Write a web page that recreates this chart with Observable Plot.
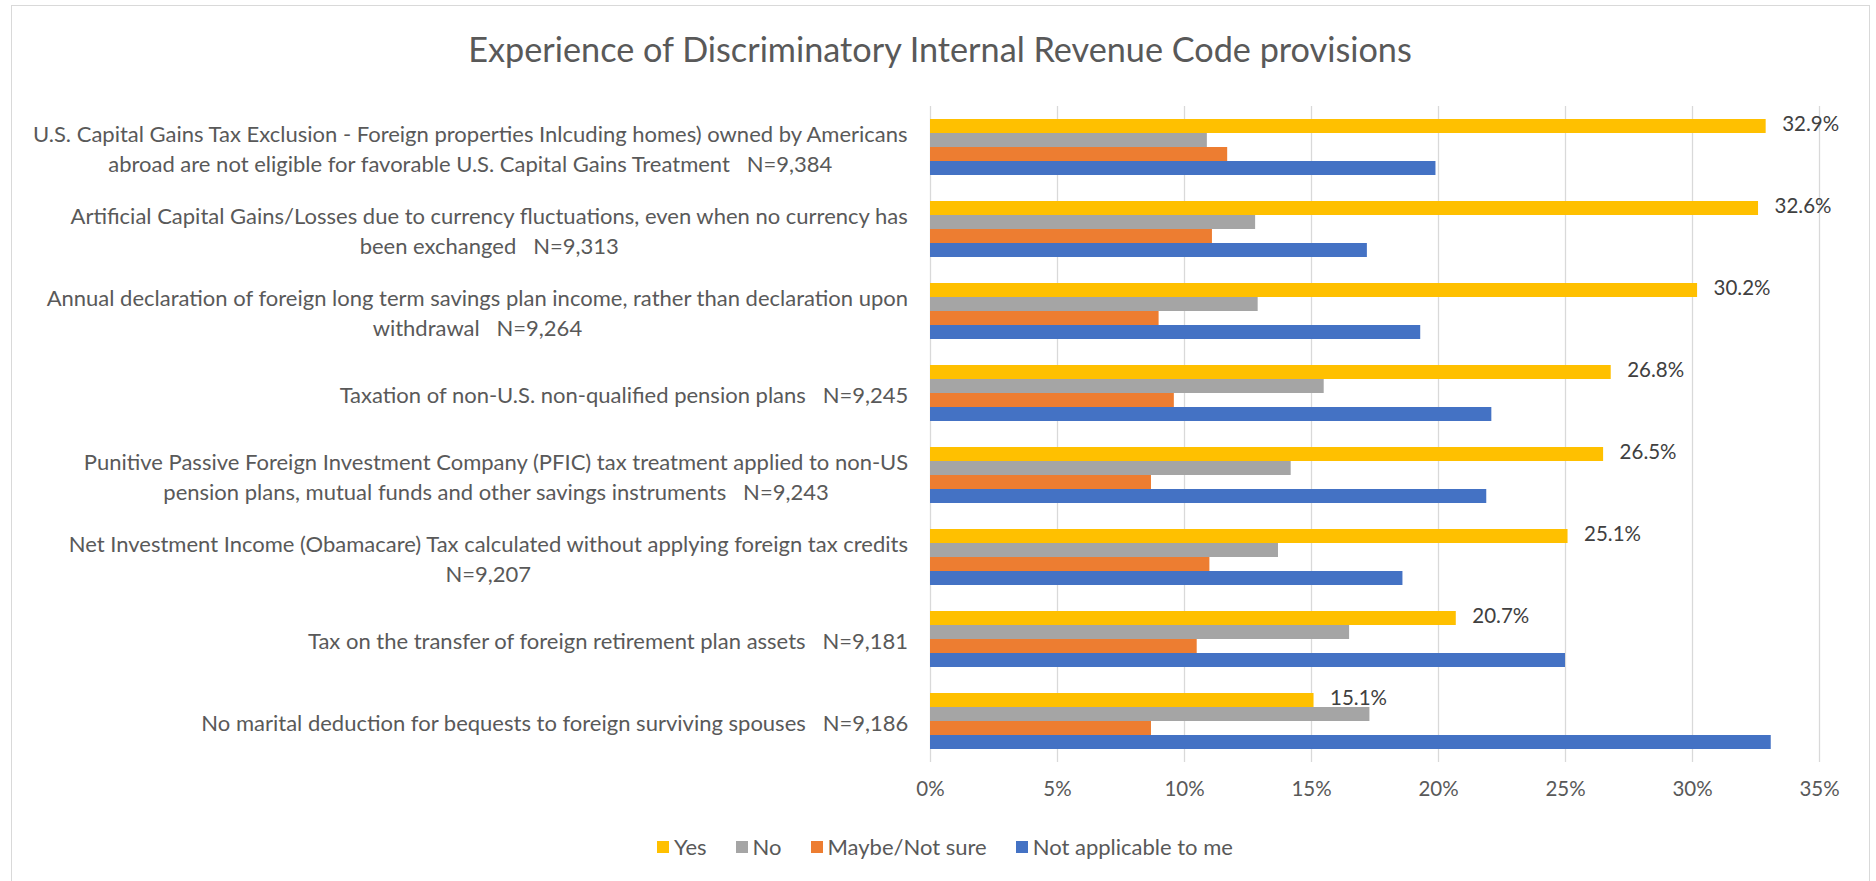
<!DOCTYPE html>
<html>
<head>
<meta charset="utf-8">
<script src="https://cdn.jsdelivr.net/npm/d3@7"></script>
<script src="https://cdn.jsdelivr.net/npm/@observablehq/plot@0.6"></script>
<style>
  html, body { margin: 0; padding: 0; background: #fff; }
  #wrap { position: relative; width: 1876px; height: 881px; overflow: hidden; font-family: Lato, "Open Sans", sans-serif; color: #595959; }
  #border { position: absolute; left: 11px; top: 5px; width: 1859px; height: 890px; border: 1px solid #d9d9d9; box-sizing: border-box; }
  #title { position: absolute; left: 0; width: 1880px; top: 28px; text-align: center; line-height: 42px; color: #595959; white-space: nowrap; }
  #chart { position: absolute; left: 0; top: 0; }
  #chart svg text { white-space: pre; }
  #legend { position: absolute; left: 0; width: 1876px; top: 833px; padding-left: 14px; box-sizing: border-box; display: flex; justify-content: center; gap: 29px; font-size: 22px; line-height: 28px; color: #595959; }
  .item { display: flex; align-items: center; white-space: nowrap; }
  .sw { width: 12px; height: 12px; margin-right: 5px; display: inline-block; }
</style>
</head>
<body>
<div id="wrap">
  <div id="border"></div>
  <div id="title"></div>
  <div id="chart"></div>
  <div id="legend"></div>
</div>
<script>
const title = "Experience of Discriminatory Internal Revenue Code provisions";

const categories = [
  "U.S. Capital Gains Tax Exclusion - Foreign properties Inlcuding homes) owned by Americans\nabroad are not eligible for favorable U.S. Capital Gains Treatment   N=9,384",
  "Artificial Capital Gains/Losses due to currency fluctuations, even when no currency has\nbeen exchanged   N=9,313",
  "Annual declaration of foreign long term savings plan income, rather than declaration upon\nwithdrawal   N=9,264",
  "Taxation of non-U.S. non-qualified pension plans   N=9,245",
  "Punitive Passive Foreign Investment Company (PFIC) tax treatment applied to non-US\npension plans, mutual funds and other savings instruments   N=9,243",
  "Net Investment Income (Obamacare) Tax calculated without applying foreign tax credits\nN=9,207",
  "Tax on the transfer of foreign retirement plan assets   N=9,181",
  "No marital deduction for bequests to foreign surviving spouses   N=9,186"
];

const seriesNames = ["Yes", "No", "Maybe/Not sure", "Not applicable to me"];
const seriesColors = ["#FFC000", "#A5A5A5", "#ED7D31", "#4472C4"];

const yes           = [32.9, 32.6, 30.2, 26.8, 26.5, 25.1, 20.7, 15.1];
const no            = [10.9, 12.8, 12.9, 15.5, 14.2, 13.7, 16.5, 17.3];
const maybe         = [11.7, 11.1,  9.0,  9.6,  8.7, 11.0, 10.5,  8.7];
const notApplicable = [19.9, 17.2, 19.3, 22.1, 21.9, 18.6, 25.0, 33.1];

const xTicks = [0, 5, 10, 15, 20, 25, 30, 35];

// tidy table built from the arrays above
const seriesValues = [yes, no, maybe, notApplicable];
const rows = [];
categories.forEach((c, i) => {
  seriesNames.forEach((s, j) => rows.push({category: c, series: s, value: seriesValues[j][i] / 100}));
});
const yesRows = rows.filter(d => d.series === "Yes");

// text measurement helpers (fit fonts to the reference's text widths)
const ctx = document.createElement("canvas").getContext("2d");
function widthAt(text, size) { ctx.font = size + "px Lato"; return ctx.measureText(text).width; }

const titleSize = 31 * 945 / widthAt(title, 31);
const titleEl = document.getElementById("title");
titleEl.textContent = title;
titleEl.style.fontSize = titleSize.toFixed(2) + "px";

const labelSize = Math.min(22, 20 * 879 / widthAt(categories[0].split("\n")[0], 20));
const boxW = categories.map(c => Math.max(...c.split("\n").map(l => widthAt(l, labelSize))));

const W = 1876, H = 812;
const mLeft = 930, mRight = 57, mTop = 103, mBottom = 48;
const labelGap = 22;

const labelMarks = categories.map((c, i) => Plot.text([c], {
  fy: d => d,
  text: d => d,
  frameAnchor: "left",
  textAnchor: "middle",
  dx: -labelGap - boxW[i] / 2,
  lineHeight: 30 / labelSize,
  fontSize: labelSize,
  fill: "#595959"
}));

const chart = Plot.plot({
  width: W,
  height: H,
  marginLeft: mLeft,
  marginRight: mRight,
  marginTop: mTop,
  marginBottom: mBottom,
  style: {fontFamily: "Lato, 'Open Sans', sans-serif", color: "#595959", background: "transparent"},
  x: {domain: [0, 0.35], ticks: xTicks.map(t => t / 100), tickFormat: d => Math.round(d * 100) + "%", tickSize: 0, tickPadding: 19, label: null},
  y: {domain: seriesNames, axis: null, paddingInner: 0, paddingOuter: 0.89},
  fy: {domain: categories, axis: null, padding: 0},
  color: {domain: seriesNames, range: seriesColors},
  marks: [
    Plot.gridX(xTicks.map(t => t / 100), {stroke: "#d9d9d9", strokeOpacity: 1, strokeWidth: 1.3}),
    Plot.barX(rows, {fy: "category", y: "series", x: "value", fill: "series"}),
    Plot.text(yesRows, {fy: "category", y: "series", x: "value", text: d => (d.value * 100).toFixed(1) + "%", textAnchor: "start", dx: 16, dy: -2, fontSize: 20.5, fill: "#404040"}),
    ...labelMarks
  ]
});
chart.querySelectorAll("g[aria-label='x-axis tick label']").forEach(el => { el.setAttribute("font-size", "20.5"); el.setAttribute("fill", "#595959"); });
document.getElementById("chart").appendChild(chart);

// legend
const legend = document.getElementById("legend");
seriesNames.forEach((s, j) => {
  const item = document.createElement("div");
  item.className = "item";
  const sw = document.createElement("span");
  sw.className = "sw";
  sw.style.background = seriesColors[j];
  item.appendChild(sw);
  const t = document.createElement("span");
  t.textContent = s;
  item.appendChild(t);
  legend.appendChild(item);
});
</script>
</body>
</html>
